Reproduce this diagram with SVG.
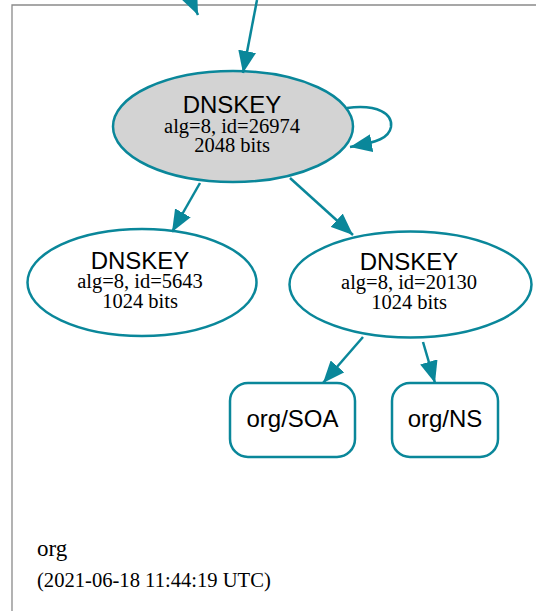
<svg xmlns="http://www.w3.org/2000/svg" width="536" height="611" viewBox="0 0 536 611">
<defs>
<style>
.node{fill:#ffffff;stroke:#0a879a;stroke-width:2.5}
.ksk{fill:#d3d3d3;stroke:#0a879a;stroke-width:2.5}
.edge{fill:none;stroke:#0a879a;stroke-width:2.5}
.t1{font-family:"Liberation Sans",Arial,sans-serif;font-size:24px;fill:#000;text-anchor:middle}
.t2{font-family:"Liberation Serif","Times New Roman",serif;font-size:20.5px;fill:#000;text-anchor:middle}
.lbl{font-family:"Liberation Serif","Times New Roman",serif;fill:#000}
</style>
<marker id="ah" markerUnits="userSpaceOnUse" markerWidth="23" markerHeight="18" refX="22" refY="9" orient="auto" viewBox="0 0 23 18">
<path d="M0,0 L22,9 L0,18 z" fill="#0a879a"/>
</marker>
</defs>
<rect width="536" height="611" fill="#ffffff"/>
<g id="cluster">
<path d="M536,5 H12 V611" fill="none" stroke="#8a8a8a" stroke-width="1.3"/>
<text class="lbl" x="37" y="556" font-size="23">org</text>
<text class="lbl" x="37" y="587" font-size="20.6">(2021-06-18 11:44:19 UTC)</text>
</g>
<g id="ksk">
<ellipse class="ksk" cx="233" cy="126.5" rx="120" ry="55.5"/>
<text class="t1" x="232" y="113">DNSKEY</text>
<text class="t2" x="232" y="133">alg=8, id=26974</text>
<text class="t2" x="232" y="152">2048 bits</text>
</g>
<g id="zsk1">
<ellipse class="node" cx="142" cy="282.5" rx="114.5" ry="53.5"/>
<text class="t1" x="140" y="269">DNSKEY</text>
<text class="t2" x="140" y="288">alg=8, id=5643</text>
<text class="t2" x="140" y="308">1024 bits</text>
</g>
<g id="zsk2">
<ellipse class="node" cx="410.5" cy="284.5" rx="121" ry="53"/>
<text class="t1" x="409" y="270">DNSKEY</text>
<text class="t2" x="409" y="289">alg=8, id=20130</text>
<text class="t2" x="409" y="309">1024 bits</text>
</g>
<g id="soa">
<rect class="node" x="230" y="383" width="125" height="74" rx="18" ry="18"/>
<text class="t1" x="292.5" y="427">org/SOA</text>
</g>
<g id="ns">
<rect class="node" x="392" y="383" width="106" height="74" rx="18" ry="18"/>
<text class="t1" x="445" y="427">org/NS</text>
</g>
<g id="edges">
<path class="edge" d="M180,-25 L198,15" marker-end="url(#ah)"/>
<path class="edge" d="M257,0 L243,73" marker-end="url(#ah)"/>
<path class="edge" d="M347,108 C378,104 393,114 391,127 C389,138 378,142 350,147" marker-end="url(#ah)"/>
<path class="edge" d="M200,183 L172,232" marker-end="url(#ah)"/>
<path class="edge" d="M290,178 L353,235" marker-end="url(#ah)"/>
<path class="edge" d="M363,337 L323,383" marker-end="url(#ah)"/>
<path class="edge" d="M423,342 L435,383" marker-end="url(#ah)"/>
</g>
</svg>
